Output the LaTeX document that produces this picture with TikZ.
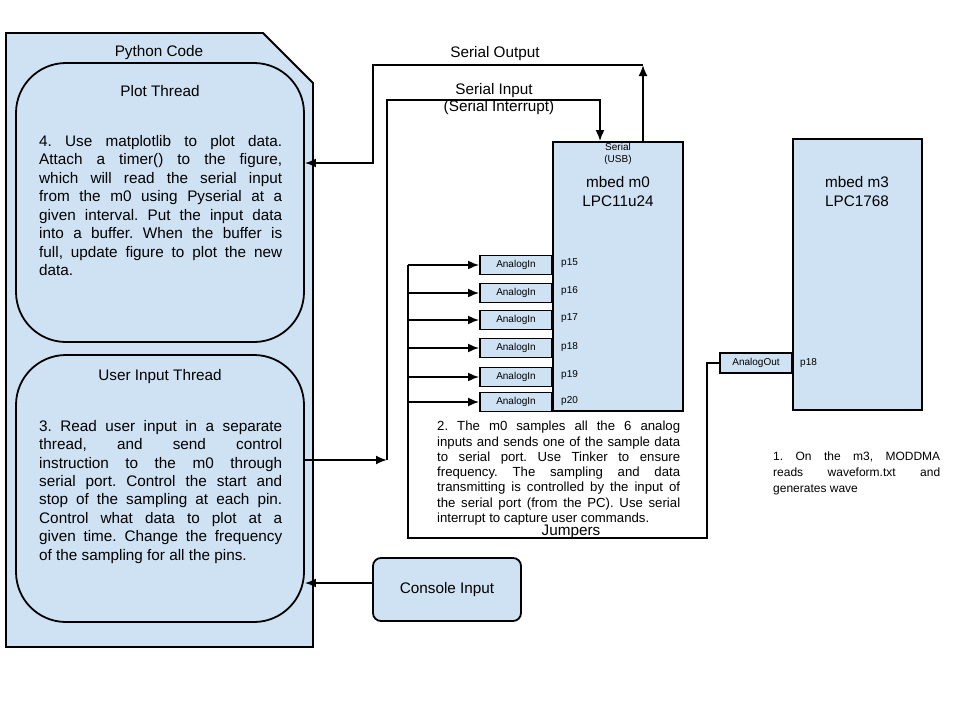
\documentclass[tikz,border=0pt]{standalone}
\usepackage{fontspec}
\setmainfont{Liberation Sans}
\usetikzlibrary{arrows.meta}
\definecolor{lb}{HTML}{CFE2F3}
\tolerance=10000 \hbadness=10000 \hyphenpenalty=10000 \exhyphenpenalty=10000
\frenchspacing
\begin{document}
\begin{tikzpicture}[x=1pt,y=-1pt,
  shapebox/.style={draw=black, fill=lb, line width=1.8pt},
  thread/.style={shapebox, rounded corners=50pt, minimum width=288pt, inner sep=0},
  board/.style={shapebox, inner sep=0},
  pinbox/.style={shapebox, minimum width=72pt, minimum height=19pt, inner sep=0, font=\fontsize{10}{12}\selectfont},
  pinlbl/.style={anchor=west, inner sep=0, font=\fontsize{10}{12}\selectfont},
  lbl/.style={inner sep=0, font=\fontsize{15.3}{18.5}\selectfont},
  small/.style={inner sep=0, font=\fontsize{10}{12}\selectfont},
  para/.style={anchor=north west, inner sep=0, align=justify},
  wire/.style={line width=1.9pt},
  arr/.style={wire, -{Latex[length=11pt,width=9pt]}},
]
\useasboundingbox (0,0) rectangle (960,720);

% Python code container
\draw[shapebox] (6,33) -- (263,33) -- (313,83) -- (313,647) -- (6,647) -- cycle;
\node[lbl] (pytitle) at (159,53) {Python Code};

% threads
\node[thread, minimum height=279pt] (plot) at (160,202.5) {};
\node[thread, minimum height=267pt] (ui) at (160,488.5) {};
\node[lbl] (plottitle) at (160,91) {Plot Thread};
\node[lbl] (uititle) at (160,377) {User Input Thread};

\node[para, text width=243pt, font=\fontsize{15.3}{18.5}\selectfont] (plottxt) at (39,135)
{4. Use matplotlib to plot data.\linebreak
Attach a timer() to the figure,\linebreak
which will read the serial input\linebreak
from the m0 using Pyserial at a\linebreak
given interval. Put the input data\linebreak
into a buffer. When the buffer is\linebreak
full, update figure to plot the new\linebreak
data.};

\node[para, text width=243pt, font=\fontsize{15.3}{18.4}\selectfont] (uitxt) at (39,420)
{3. Read user input in a separate\linebreak
thread, and send control\linebreak
instruction to the m0 through\linebreak
serial port. Control the start and\linebreak
stop of the sampling at each pin.\linebreak
Control what data to plot at a\linebreak
given time. Change the frequency\linebreak
of the sampling for all the pins.};

% console
\node[shapebox, rounded corners=8pt, minimum width=148pt, minimum height=63pt, inner sep=0,
  font=\fontsize{15.3}{18.5}\selectfont] (console) at (447,589.5) {Console Input};

% analog in boxes
\node[pinbox] (a1) at (516,265) {AnalogIn};
\node[pinbox] (a2) at (516,293) {AnalogIn};
\node[pinbox] (a3) at (516,320) {AnalogIn};
\node[pinbox] (a4) at (516,348) {AnalogIn};
\node[pinbox] (a5) at (516,377) {AnalogIn};
\node[pinbox] (a6) at (516,402) {AnalogIn};

% boards
\node[board, minimum width=130pt, minimum height=269pt] (m0) at (618,276.5) {};
\node[board, minimum width=129pt, minimum height=271pt] (m3) at (857.5,274.5) {};

\node[small] (m0ser) at (618,147) {Serial};
\node[small] (m0usb) at (618,159.5) {(USB)};
\node[lbl] (m0name) at (618,182.5) {mbed m0};
\node[lbl] (m0chip) at (618,201) {LPC11u24};
\node[lbl] (m3name) at (857,182.5) {mbed m3};
\node[lbl] (m3chip) at (857,201) {LPC1768};

\node[pinlbl] (p15) at (561,263.5) {p15};
\node[pinlbl] (p16) at (561,291.5) {p16};
\node[pinlbl] (p17) at (561,318.5) {p17};
\node[pinlbl] (p18) at (561,347) {p18};
\node[pinlbl] (p19) at (561,375.5) {p19};
\node[pinlbl] (p20) at (561,401) {p20};

\node[pinbox, minimum height=20pt] (aout) at (756,363) {AnalogOut};
\node[pinlbl] (p18b) at (800,363) {p18};

% notes
\node[para, text width=243pt, font=\fontsize{13.2}{15.3}\selectfont] (note2) at (437,421)
{2. The m0 samples all the 6 analog\linebreak
inputs and sends one of the sample data\linebreak
to serial port. Use Tinker to ensure\linebreak
frequency. The sampling and data\linebreak
transmitting is controlled by the input of\linebreak
the serial port (from the PC). Use serial\linebreak
interrupt to capture user commands.};

\node[para, text width=167pt, font=\fontsize{12}{16}\selectfont] (note1) at (773,451.5)
{1. On the m3, MODDMA\linebreak
reads waveform.txt and\linebreak
generates wave};

% jumpers
\coordinate (jr) at (707,538);
\coordinate (jl) at (408,538);
\coordinate (bt) at (408,265);
\draw[wire] (aout.west) -| (jr) -- (jl) -- (bt);
\foreach \n in {a1,a2,a3,a4,a5,a6}
  \draw[arr] (\n.west -| jl) -- (\n.west);
\node[lbl] (jump) at (571,532) {Jumpers};

% serial output
\coordinate (so) at (643,65);
\coordinate (sol) at (373,163);
\draw[arr] ([xshift=25pt]m0.north) -- (so);
\draw[arr] (so) -| (sol) -- (sol -| plot.east);
\node[lbl] (solbl) at (495,54) {Serial Output};

% serial input
\coordinate (sij) at (387,460);
\coordinate (sit) at (600,100);
\draw[arr] (sij -| ui.east) -- (sij);
\draw[arr] (sij) |- (sit) -- (sit |- m0.north);
\node[lbl] (silbl) at (494,91) {Serial Input};
\node[lbl] (sirq) at (499,108) {(Serial Interrupt)};

% console input
\coordinate (ci) at ([yshift=6.5pt]console.west);
\draw[arr] (ci) -- (ci -| ui.east);
\end{tikzpicture}
\end{document}
